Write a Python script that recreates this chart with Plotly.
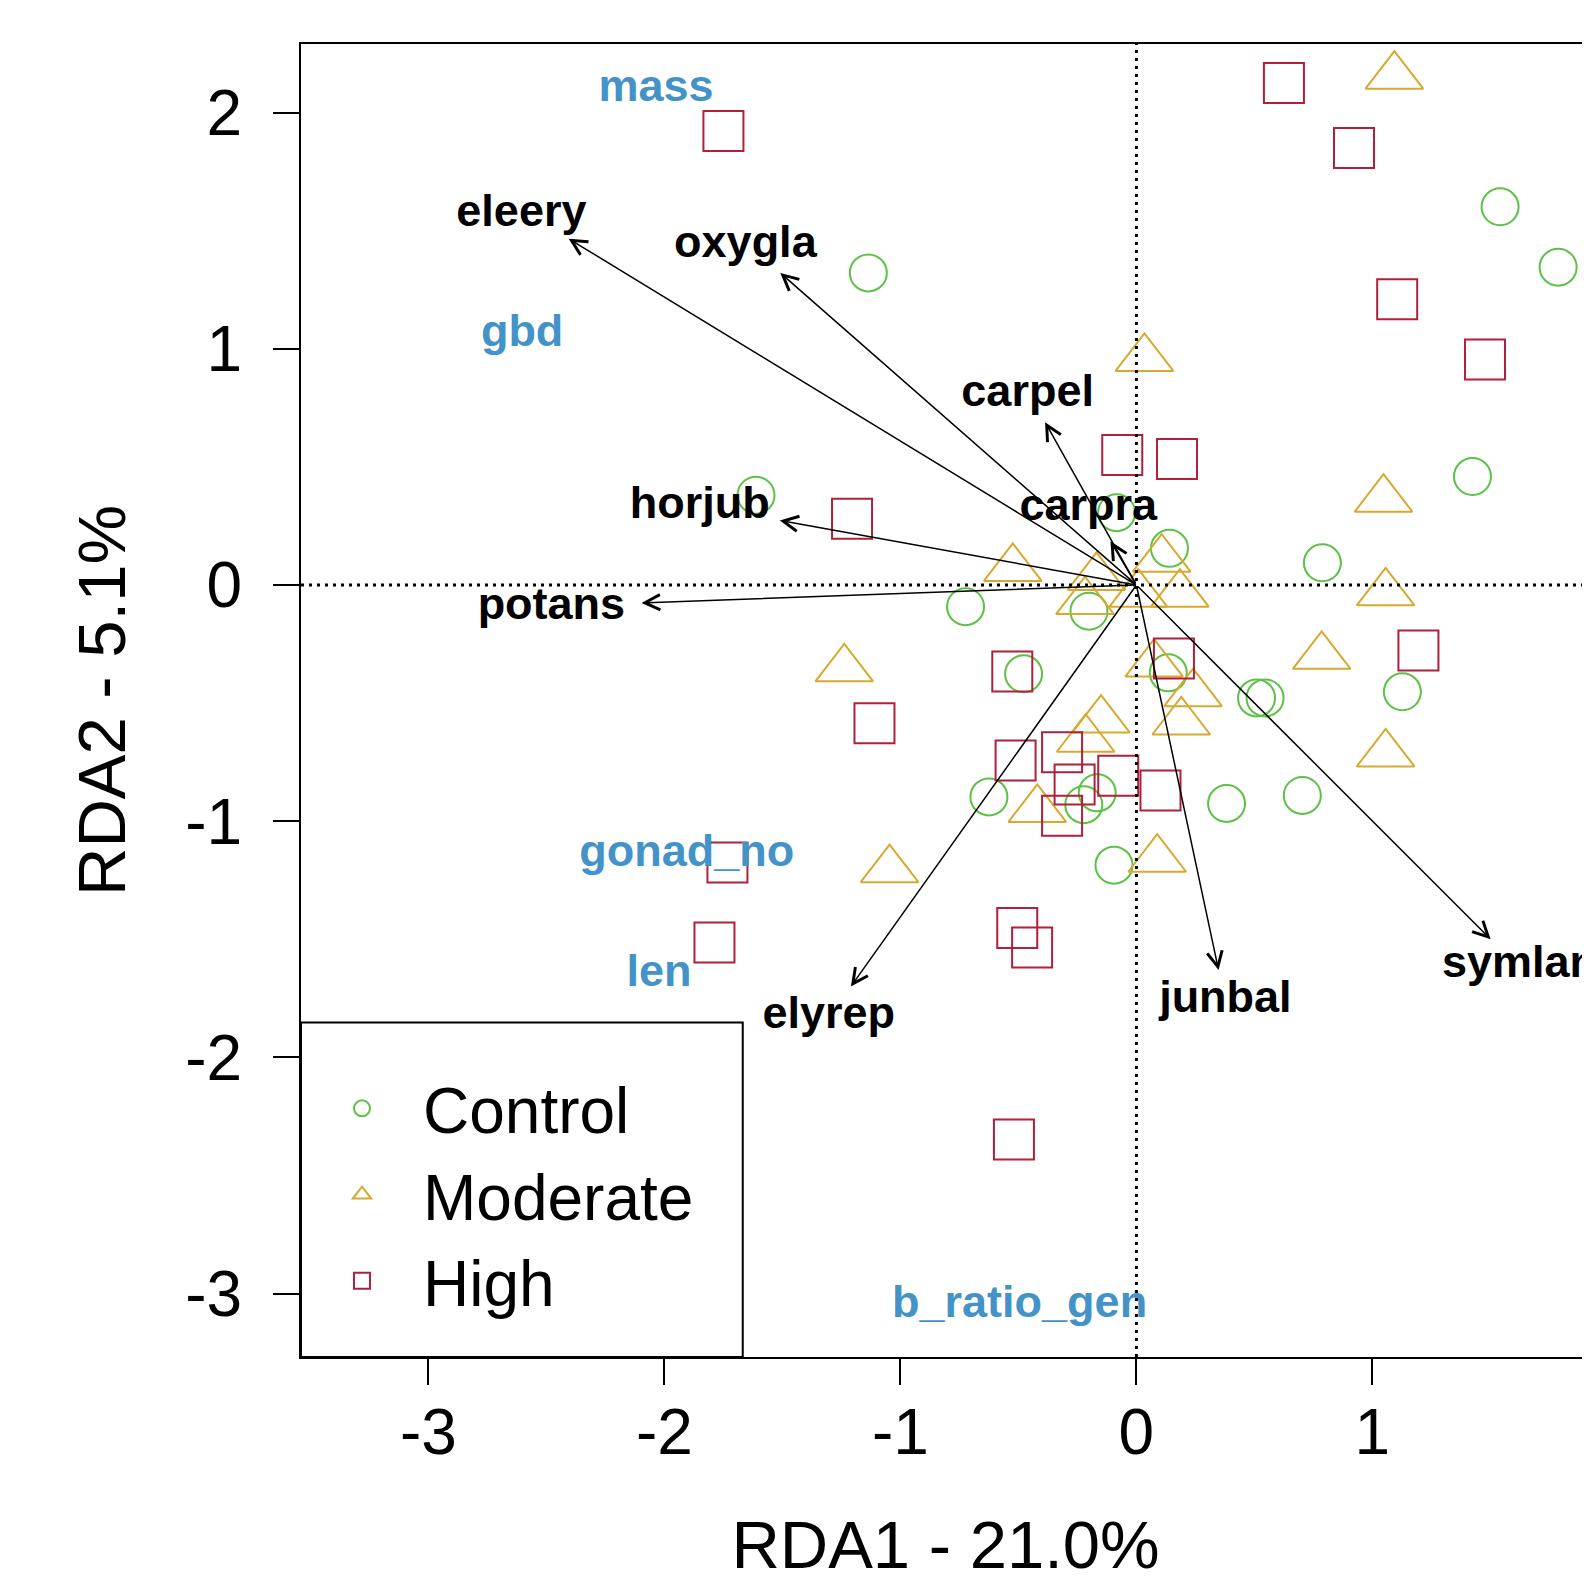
import plotly.graph_objects as go

# ---- site scores (RDA1, RDA2) by treatment ----
control_x = [-1.136, 1.541, 1.787, 1.424, 0.788, 1.127, 0.509, 0.545, 0.382, 0.703,
             -1.612, -0.724, -0.478, -0.625, -0.095, 0.140, -0.084, -0.201, 0.135, -0.223, -0.166]
control_y = [1.321, 1.601, 1.345, 0.459, 0.094, -0.452, -0.478, -0.478, -0.925, -0.891,
             0.380, -0.092, -0.376, -0.897, -1.186, 0.155, 0.306, -0.111, -0.372, -0.930, -0.880]

moderate_x = [1.093, 0.034, 1.047, 1.056, 0.785, 1.056, -1.238, -1.046, 0.088, -0.524,
              -0.169, -0.218, 0.107, 0.184, 0.008, 0.075, 0.240, 0.190, -0.150, -0.215, -0.420]
moderate_y = [2.154, 0.959, 0.363, -0.033, -0.302, -0.715, -0.355, -1.205, -1.161, 0.070,
              0.032, -0.070, 0.109, -0.039, -0.039, -0.335, -0.460, -0.580, -0.572, -0.653, -0.950]

high_x = [-1.750, 0.625, 0.922, 1.105, 1.477, -0.060, 0.172, -1.205, 1.195, 0.159, -0.526,
          -1.110, -0.512, -0.315, -0.262, -0.077, -0.315, 0.102, -0.505, -0.442, -1.733, -1.788, -0.519]
high_y = [1.922, 2.125, 1.850, 1.210, 0.955, 0.550, 0.533, 0.280, -0.277, -0.311, -0.366,
          -0.585, -0.743, -0.708, -0.845, -0.808, -0.977, -0.870, -1.452, -1.535, -1.175, -1.513, -2.347]

# ---- species arrows (tips) and label positions ----
species = ["eleery", "oxygla", "carpel", "carpra", "horjub", "potans", "elyrep", "junbal", "symlan"]
species_x = [-2.406, -1.509, -0.387, -0.110, -1.511, -2.097, -1.210, 0.348, 1.501]
species_y = [1.466, 1.321, 0.689, 0.185, 0.273, -0.076, -1.700, -1.630, -1.500]
species_lab_x = [-2.606, -1.657, -0.461, -0.204, -1.850, -2.479, -1.304, 0.377, 1.623]
species_lab_y = [1.567, 1.436, 0.805, 0.324, 0.332, -0.096, -1.827, -1.761, -1.611]

# ---- response variables (blue labels) ----
responses = ["mass", "gbd", "gonad_no", "len", "b_ratio_gen"]
responses_x = [-2.036, -2.603, -1.905, -2.023, -0.495]
responses_y = [2.095, 1.058, -1.140, -1.651, -3.053]

# ---- axes ----
x_range = [-3.540, 1.922]
y_range = [-3.268, 2.290]
tick_vals = [-3, -2, -1, 0, 1, 2]
tick_text = ["-3", "-2", "-1", "0", "1", "2"]
x_title = "RDA1 - 21.0%"
y_title = "RDA2 - 5.1%"

FONT = "Liberation Sans, Arial, sans-serif"
GREEN = "#5cc245"
GOLD = "#d8a930"
RED = "#b0203a"
BLUE = "#4393c8"

fig = go.Figure()

fig.add_trace(go.Scatter(
    x=control_x, y=control_y, mode="markers", name="Control",
    marker=dict(symbol="circle-open", size=37, color=GREEN, line=dict(width=2, color=GREEN))))
fig.add_trace(go.Scatter(
    x=moderate_x, y=moderate_y, mode="markers", name="Moderate",
    marker=dict(symbol="triangle-up-open", size=50, color=GOLD, line=dict(width=2, color=GOLD))))
fig.add_trace(go.Scatter(
    x=high_x, y=high_y, mode="markers", name="High",
    marker=dict(symbol="square-open", size=40, color=RED, line=dict(width=2, color=RED))))

fig.add_trace(go.Scatter(
    x=species_lab_x, y=species_lab_y, mode="text", text=species, showlegend=False,
    textposition="middle center",
    textfont=dict(family=FONT, size=45, color="black", weight="bold")))
fig.add_trace(go.Scatter(
    x=responses_x, y=responses_y, mode="text", text=responses, showlegend=False,
    textposition="middle center",
    textfont=dict(family=FONT, size=45, color=BLUE, weight="bold")))

annotations = []
for sx, sy in zip(species_x, species_y):
    annotations.append(dict(
        x=sx, y=sy, xref="x", yref="y", ax=0, ay=0, axref="x", ayref="y",
        text="", showarrow=True, arrowhead=5, arrowsize=2.0, arrowwidth=1.5,
        arrowcolor="black", standoff=0, startstandoff=0))

shapes = [
    dict(type="line", xref="x", yref="paper", x0=0, x1=0, y0=0, y1=1,
         line=dict(color="black", width=3, dash="3px,5px"), layer="above"),
    dict(type="line", xref="paper", yref="y", x0=0, x1=1, y0=0, y1=0,
         line=dict(color="black", width=3, dash="3px,5px"), layer="above"),
    dict(type="rect", xref="paper", yref="paper", x0=0, x1=0.3427, y0=0, y1=0.2548,
         line=dict(color="black", width=2), fillcolor="white", layer="above"),
]

axis_common = dict(
    showgrid=False, zeroline=False, showline=True, linecolor="black", linewidth=2,
    ticks="outside", ticklen=26, tickwidth=2, tickcolor="black",
    tickvals=tick_vals, ticktext=tick_text,
    tickfont=dict(family=FONT, size=64, color="black"),
)

# page body has an 8px margin, so the figure is 8px smaller on each side
fig.update_layout(
    width=1582, height=1576,
    margin=dict(l=293, r=0, t=36, b=227, pad=0),
    paper_bgcolor="white", plot_bgcolor="white",
    xaxis=dict(range=x_range, mirror=True, ticklabelstandoff=-8,
               title=dict(text=x_title, font=dict(family=FONT, size=67, color="black"), standoff=54),
               **axis_common),
    yaxis=dict(range=y_range, ticklabelstandoff=18,
               title=dict(text=y_title, font=dict(family=FONT, size=67, color="black"), standoff=38),
               **axis_common),
    showlegend=True,
    legend=dict(x=0.0, y=0.226, xanchor="left", yanchor="top",
                bgcolor="rgba(0,0,0,0)", borderwidth=0,
                font=dict(family=FONT, size=64, color="black"),
                itemwidth=112, tracegroupgap=0),
    annotations=annotations,
    shapes=shapes,
)

fig.write_html("out.html")
